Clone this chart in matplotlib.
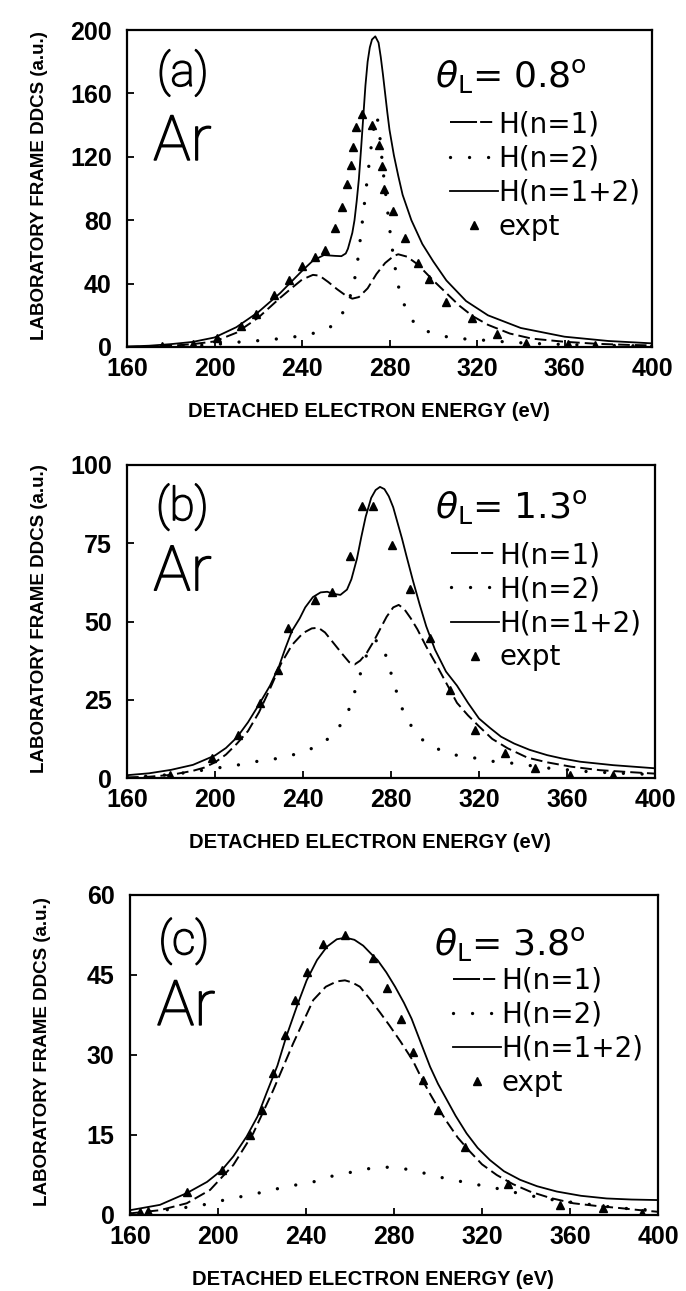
import matplotlib.pyplot as plt
import matplotlib.patheffects as pe
from matplotlib.lines import Line2D

plt.rcParams['font.family'] = ['Liberation Sans', 'DejaVu Sans']
plt.rcParams['mathtext.fontset'] = 'dejavusans'

# ---- panel (a), theta_L = 0.8 deg ----
a_sum_e = [160, 170, 180, 190, 200, 210, 220, 230, 240, 245, 250, 255, 258, 260, 261, 263, 264, 265,
           266, 267, 268, 269, 270, 271, 272, 273.5, 275, 276, 277, 278, 279, 280, 282, 284, 286, 290,
           295, 300, 306, 315, 325, 340, 360, 380, 400]
a_sum = [0.3, 0.8, 1.8, 3.2, 6, 12.5, 22, 34, 48, 54.5, 58, 57.5, 57.3, 59, 62, 72, 80, 92,
         106, 125, 145, 165, 180, 189, 194, 196, 192, 183, 172, 160, 148, 137, 121, 108, 96, 80,
         65, 54, 42, 29, 20, 12, 6.5, 3.8, 2.3]
a_n1_e = [160, 170, 180, 190, 200, 210, 220, 230, 236, 240, 245, 248, 252, 256, 260, 263, 266, 270,
          274, 278, 282, 284, 288, 292, 294, 300, 306, 312, 318, 325, 335, 345, 360, 375, 390, 400]
a_n1 = [0.1, 0.3, 0.8, 1.8, 3.5, 9, 18.5, 31, 38, 42.5, 45.5, 45, 41, 36.5, 32.5, 30.5, 31.5, 37,
        46, 53, 57.5, 58.5, 57, 53, 50.5, 42, 34, 26, 19.5, 14, 8.5, 5.3, 3.3, 2, 1.3, 1]
a_n2_e = [160, 180, 200, 210, 220, 228, 236, 244, 250, 254, 258, 261, 263.5, 265.5, 267, 268.5, 270,
          271.5, 273, 274.3, 275.5, 277, 278.7, 280.6, 282, 283, 284.5, 287.2, 291.2, 294, 297.7,
          306, 315, 322, 335, 350, 370, 400]
a_n2 = [0.05, 0.3, 1.5, 3, 4, 5, 6.3, 8.2, 10.5, 13.5, 20, 28, 38, 55, 72, 90, 108,
        125, 140, 146, 134, 112, 91, 68.6, 55, 46.5, 35.5, 25, 15.3, 12, 9.7,
        6.5, 5, 4.4, 3, 2, 1.2, 0.6]
a_exp_e = [176, 190, 201, 212, 219, 227, 234, 240, 246, 250.5, 255, 258.5, 260.5, 262.5, 263.5, 264.5,
           267.5, 272, 275, 276.5, 277.5, 281.5, 287, 293, 298, 306, 317.5, 329, 342.5, 361.5, 374]
a_exp = [0.5, 2, 5.5, 13, 21, 33, 42, 51, 57, 61, 75, 88.5, 103, 115, 126, 139,
         147, 140, 127.5, 114, 100, 86, 69, 53, 43, 28.5, 18, 8.5, 2.5, 2, 1]

# ---- panel (b), theta_L = 1.3 deg ----
b_sum_e = [160, 170, 180, 190, 200, 205, 210, 215, 220, 225, 229, 232, 235, 238.5, 241, 244.5, 248, 251,
           254, 257, 260, 262, 264.5, 266.5, 268.5, 271, 273, 275, 277, 279, 281, 283, 285, 287, 290,
           293, 296, 300, 305, 310, 315, 320, 325, 330, 336, 343, 351, 358, 366, 381, 400]
b_sum = [0.9, 1.5, 2.6, 4.2, 7.2, 9.6, 13, 17.8, 23.5, 29.5, 35.5, 41.5, 47, 51, 54.5, 57.8, 59.3, 59.5,
         58.8, 58.5, 60.2, 63.5, 70, 77, 83.5, 89.5, 92, 93, 92.3, 90, 86.5, 81.5, 76.5, 71, 63,
         55.5, 48.5, 41, 34, 29.5, 24, 19, 16, 13.2, 11, 9, 7.3, 6.2, 5.2, 4.1, 3.1]
b_n1_e = [160, 170, 180, 190, 195, 200, 205, 210, 215, 220, 225, 230, 235, 240, 244, 247, 250, 254,
          258, 261, 263.5, 266, 269, 272, 275, 278, 281, 283.5, 286, 289, 292, 296, 300, 305, 310,
          315, 320, 326, 333, 342, 351, 362, 375, 388, 400]
b_n1 = [0.2, 0.4, 1, 2.3, 3.3, 5, 7.5, 11, 15, 21, 28.5, 36.5, 42.5, 46.3, 47.8, 48, 46.5, 43,
        39.5, 37, 36.3, 37.5, 40, 43.5, 47.5, 51.5, 54.5, 55.3, 54, 51, 47.5, 42, 37, 30.5, 24,
        20, 16.5, 12.5, 9.5, 6.5, 5, 3.6, 2.5, 1.9, 1.4]
b_n2_e = [160, 170, 180, 190, 200, 210, 218, 226.5, 235, 242.4, 250, 256, 260, 262.6, 265.1, 267.5,
          270, 273.5, 276.5, 278.8, 281, 283.3, 286, 290.2, 295.5, 303, 310.6, 319, 327.3, 335.6,
          352.3, 370, 385, 400]
b_n2 = [0.3, 0.6, 1.1, 2, 3.1, 4.1, 5.2, 6, 7.3, 8.9, 11.6, 15.9, 20.1, 25.5, 31.1, 36.5,
        41.5, 44, 41.8, 36.4, 31.1, 25.7, 20.4, 15.5, 11.3, 8.7, 7.1, 6.3, 5.2, 4.7,
        3.1, 2, 1.5, 1.1]
b_exp_e = [179.5, 198.5, 210.6, 220.5, 228.8, 233.3, 245.5, 253, 261.4, 266.7, 272, 280.3, 288.6,
           297.7, 306.8, 318.2, 331.8, 345.5, 361.4, 381]
b_exp = [1, 6.3, 13.7, 24, 34.5, 47.8, 57, 59.5, 71, 87, 87, 74.4, 60.5,
         44.6, 28, 15.3, 7.9, 3.1, 1, 1]

# ---- panel (c), theta_L = 3.8 deg ----
c_sum_e = [160, 173.6, 185.8, 195, 201.7, 207, 213, 218, 222, 227, 231, 236, 240.3, 245, 249.5, 254,
           258, 262, 266, 270, 272.5, 276.5, 280.5, 284.5, 288, 292, 296.4, 300, 304, 308, 313,
           318, 323.6, 330, 337.3, 345, 354, 365, 376.7, 388, 400]
c_sum = [0.9, 1.9, 4.1, 6.2, 8.4, 11, 14.7, 18.5, 22.8, 28, 33.4, 39.3, 44, 47.8, 50.3, 51.7,
         52, 51.6, 50.5, 48.8, 47.8, 45.5, 42.8, 39.8, 36.8, 32.5, 27.8, 24.6, 21.6, 18.6, 15.3,
         12.6, 10.3, 8.2, 6.6, 5.4, 4.4, 3.6, 3.1, 2.9, 2.8]
c_n1_e = [160, 173.6, 185.8, 196.4, 207, 216, 225.1, 234.2, 243.3, 249, 254, 257.7, 261, 264.5, 269,
          273.6, 278, 283, 288.5, 293.3, 296.4, 300.2, 304, 309, 314.5, 320, 326.7, 334, 341.8,
          351, 361.5, 372, 382.7, 392, 400]
c_n1 = [0.3, 0.9, 2.2, 4.7, 9.4, 15.3, 23.4, 32.2, 40.3, 42.8, 43.8, 44, 43.6, 42.8, 40.5,
        38, 35.5, 32.5, 29, 25, 22.7, 20, 17.5, 14.5, 11.9, 9.5, 7.5, 5.8, 4.4,
        3.2, 2.2, 1.7, 1.3, 0.9, 0.6]
c_n2_e = [160, 175, 185, 193.3, 201.7, 210, 218.3, 226.7, 235, 243.3, 250.9, 259.2, 266.8, 275, 283,
          291.5, 299.4, 307, 314.5, 323.6, 332.7, 340.3, 347.8, 358.5, 370.6, 382.7, 397.9, 400]
c_n2 = [0.4, 0.9, 1.4, 1.9, 2.7, 3.4, 4.1, 4.9, 5.6, 6.2, 7.2, 7.9, 8.6, 9, 8.8,
        8.1, 7.2, 6.6, 5.9, 5.3, 4.4, 3.8, 3.1, 2.5, 1.9, 1.3, 0.9, 0.85]
c_exp_e = [164.5, 168, 185.8, 201.7, 214.5, 219.9, 225.2, 230.5, 235, 240.3, 247.9, 257.7, 270.6,
           277, 283, 288.5, 293.3, 300.2, 312.3, 332, 355.5, 375.1, 392.6]
c_exp = [0.6, 0.7, 4.4, 8.4, 15, 19.7, 26.6, 33.8, 40.3, 45.6, 50.9, 52.5, 48.1,
         42.5, 36.7, 30.6, 25.3, 19.7, 12.8, 5.9, 1.9, 1.3, 0.3]

x_ticks = [160, 200, 240, 280, 320, 360, 400]
panel_tags = ['(a)', '(b)', '(c)']
angles = ['0.8', '1.3', '3.8']
y_ticks = [[0, 40, 80, 120, 160, 200], [0, 25, 50, 75, 100], [0, 15, 30, 45, 60]]
legend_labels = ['H(n=1)', 'H(n=2)', 'H(n=1+2)', 'expt']

panels = [
    (a_sum_e, a_sum, a_n1_e, a_n1, a_n2_e, a_n2, a_exp_e, a_exp),
    (b_sum_e, b_sum, b_n1_e, b_n1, b_n2_e, b_n2, b_exp_e, b_exp),
    (c_sum_e, c_sum, c_n1_e, c_n1, c_n2_e, c_n2, c_exp_e, c_exp),
]

W, H = 686, 1291
fig = plt.figure(figsize=(W / 100, H / 100), dpi=100)

# axes boxes in pixels: left, top, right, bottom
boxes = [(127, 30, 652, 347), (127, 465, 655, 778), (130, 895, 658, 1215)]
tag_pos = [(0.057, 0.865, 0.05, 0.59), (0.055, 0.866, 0.05, 0.60), (0.054, 0.856, 0.051, 0.594)]
theta_pos = [(0.587, 0.82), (0.584, 0.83), (0.576, 0.812)]
leg_pos = [(0.615, 0.747), (0.613, 0.757), (0.611, 0.777)]
xlab_y = [-0.172, -0.176, -0.172]

dot_style = (0, (0.01, 5.6))
dash_style = (0, (6, 2.6))
light = ['Roboto', 'DejaVu Sans']
thicken = [pe.withStroke(linewidth=1.1, foreground='black')]

for i, (se, s, e1, v1, e2, v2, xe, xv) in enumerate(panels):
    l, t, r, b = boxes[i]
    ax = fig.add_axes([l / W, 1 - b / H, (r - l) / W, (b - t) / H])

    ax.plot(e1, v1, color='black', lw=1.4, linestyle=dash_style)
    ax.plot(e2, v2, color='black', lw=2.4, linestyle=dot_style, dash_capstyle='round')
    ax.plot(se, s, color='black', lw=1.3)
    ax.plot(xe, xv, linestyle='none', marker='^', ms=5.5, color='black')

    ax.set_xlim(160, 400)
    ax.set_ylim(0, y_ticks[i][-1])
    ax.set_xticks(x_ticks)
    ax.set_yticks(y_ticks[i])
    for sp in ax.spines.values():
        sp.set_linewidth(1.6)
    ax.tick_params(axis='both', direction='in', length=5, width=1.3, labelsize=18)
    ax.tick_params(axis='x', pad=7.5)
    ax.tick_params(axis='y', pad=11)
    for lab in ax.get_xticklabels() + ax.get_yticklabels():
        lab.set_fontweight('bold')

    ax.set_xlabel('DETACHED ELECTRON ENERGY (eV)', fontsize=14.5, fontweight='bold')
    ax.set_ylabel('LABORATORY FRAME DDCS (a.u.)', fontsize=13.5, fontweight='bold')
    ax.xaxis.set_label_coords(0.46, xlab_y[i])
    ax.yaxis.set_label_coords(-0.15, 0.51)

    tx, ty, arx, ary = tag_pos[i]
    ax.text(tx, ty, panel_tags[i], transform=ax.transAxes, fontsize=33, family=light,
            fontweight='light', va='center', ha='left', path_effects=thicken)
    ax.text(arx, ary, 'Ar', transform=ax.transAxes, fontsize=45, family=light,
            fontweight='light', va='baseline', ha='left', path_effects=thicken)

    thx, thy = theta_pos[i]
    ax.text(thx, thy, r'$\theta_{\rm L}$= ' + angles[i] + r'$^{\rm o}$', transform=ax.transAxes,
            fontsize=26, family=['DejaVu Sans'], va='baseline', ha='left')

    handles = [
        Line2D([], [], color='black', lw=1.4, linestyle=(0, (13.9, 1.6, 6.2, 20))),
        Line2D([], [], color='black', lw=2.4, linestyle=(0, (0.01, 5.7)), dash_capstyle='round'),
        Line2D([], [], color='black', lw=1.3),
        Line2D([], [], color='black', linestyle='none', marker='^', ms=5.5),
    ]
    lx, ly = leg_pos[i]
    ax.legend(handles, legend_labels, loc='upper left', bbox_to_anchor=(lx, ly),
              frameon=False, handlelength=1.75, handletextpad=0.0,
              prop={'family': ['DejaVu Sans'], 'size': 20},
              borderpad=0, borderaxespad=0, labelspacing=0.22)

fig.savefig('out.png', dpi=100)
